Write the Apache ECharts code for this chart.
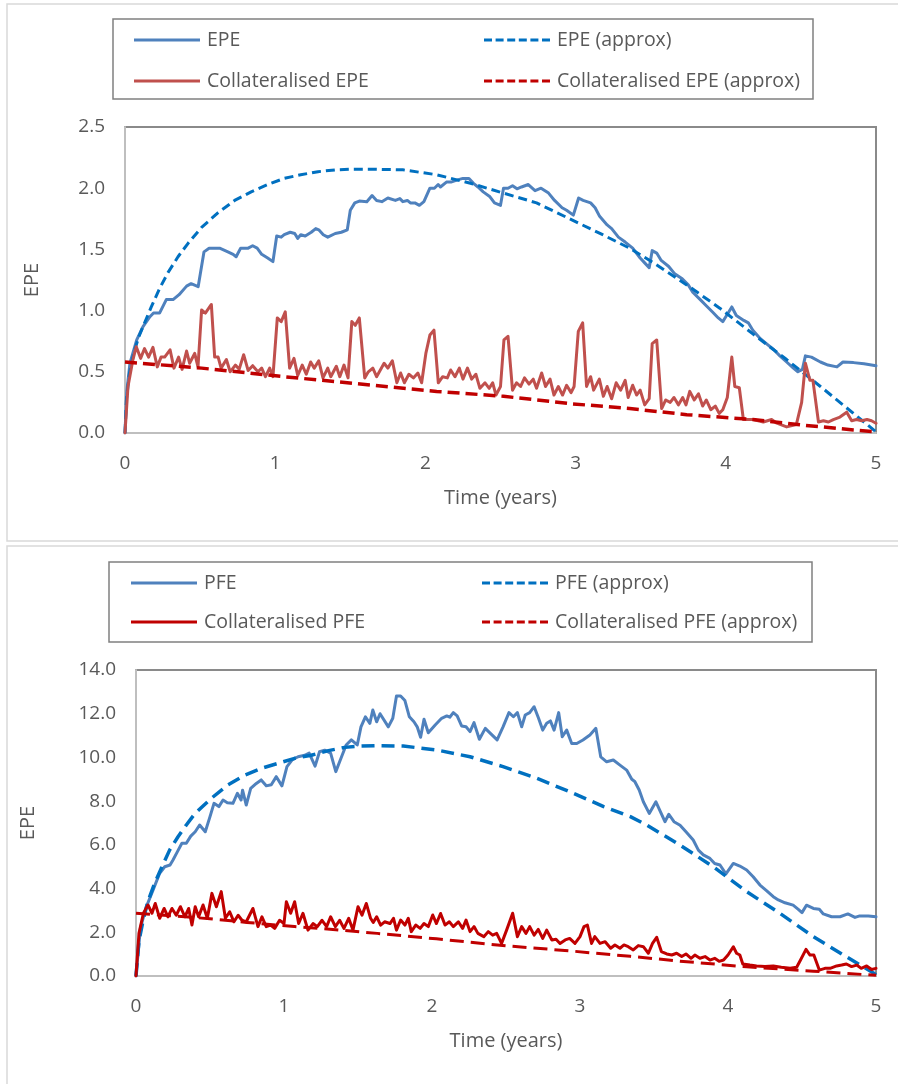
<!DOCTYPE html>
<html>
<head>
<meta charset="utf-8">
<script src="https://cdn.jsdelivr.net/npm/echarts@6/dist/echarts.min.js"></script>
<style>
html,body{margin:0;padding:0;background:#fff;}
#c{width:898px;height:1084px;}
</style>
</head>
<body>
<div id="c"></div>
<script>
// ---------- Top chart (EPE) ----------
const epeT = [0,0.011,0.033,0.078,0.12,0.166,0.19,0.23,0.275,0.32,0.36,0.41,0.44,0.487,0.526,0.56,0.63,0.685,0.72,0.74,0.77,0.82,0.85,0.88,0.91,0.95,0.985,1.01,1.04,1.06,1.10,1.13,1.15,1.17,1.20,1.24,1.27,1.29,1.32,1.35,1.40,1.44,1.48,1.50,1.53,1.56,1.61,1.645,1.675,1.71,1.75,1.80,1.83,1.85,1.88,1.90,1.93,1.96,1.99,2.03,2.06,2.085,2.10,2.14,2.17,2.22,2.25,2.29,2.32,2.35,2.385,2.43,2.46,2.50,2.52,2.55,2.58,2.61,2.64,2.685,2.73,2.77,2.82,2.86,2.91,2.94,2.985,3.02,3.05,3.10,3.13,3.16,3.21,3.24,3.285,3.33,3.38,3.43,3.46,3.49,3.51,3.54,3.57,3.62,3.66,3.71,3.75,3.78,3.83,3.87,3.91,3.95,3.98,4.00,4.04,4.07,4.12,4.15,4.18,4.23,4.27,4.32,4.36,4.405,4.45,4.48,4.51,4.53,4.57,4.63,4.68,4.74,4.78,4.85,4.92,5.00];
const epeV = [0,0.33,0.57,0.76,0.87,0.95,0.98,0.98,1.09,1.09,1.13,1.20,1.22,1.195,1.48,1.51,1.51,1.48,1.46,1.44,1.51,1.51,1.53,1.51,1.46,1.43,1.40,1.61,1.60,1.62,1.64,1.63,1.59,1.62,1.61,1.64,1.67,1.66,1.62,1.60,1.63,1.64,1.66,1.82,1.88,1.895,1.89,1.94,1.90,1.89,1.92,1.90,1.915,1.89,1.90,1.88,1.88,1.86,1.89,2.00,2.00,2.03,2.01,2.05,2.05,2.07,2.08,2.08,2.04,2.01,1.97,1.93,1.88,1.86,2.00,2.00,2.02,1.995,2.01,2.03,1.98,2.00,1.96,1.90,1.84,1.82,1.78,1.92,1.90,1.88,1.84,1.77,1.70,1.67,1.60,1.56,1.51,1.43,1.39,1.35,1.49,1.47,1.41,1.36,1.30,1.26,1.21,1.15,1.09,1.04,0.99,0.94,0.91,0.95,1.03,0.96,0.92,0.90,0.84,0.77,0.73,0.68,0.63,0.58,0.53,0.50,0.52,0.63,0.62,0.58,0.555,0.54,0.58,0.575,0.565,0.55];

const epeApproxT = [0,0.01,0.03,0.06,0.09,0.12,0.175,0.23,0.286,0.353,0.42,0.51,0.62,0.73,0.84,0.95,1.06,1.17,1.285,1.40,1.51,1.66,1.85,2.075,2.30,2.52,2.74,2.96,3.18,3.36,3.52,3.74,3.96,4.18,4.405,4.63,4.85,5.0];
const epeApproxV = [0,0.28,0.49,0.66,0.78,0.87,1.03,1.18,1.31,1.44,1.55,1.68,1.80,1.90,1.97,2.03,2.08,2.11,2.135,2.15,2.155,2.155,2.15,2.11,2.04,1.96,1.88,1.75,1.62,1.51,1.39,1.21,1.02,0.81,0.60,0.38,0.16,0.01];

const collEpeT = [0,0.02,0.053,0.075,0.104,0.13,0.157,0.186,0.215,0.24,0.264,0.30,0.326,0.357,0.38,0.41,0.43,0.464,0.486,0.51,0.535,0.575,0.597,0.62,0.64,0.675,0.70,0.735,0.76,0.79,0.82,0.85,0.885,0.91,0.935,0.963,0.985,1.014,1.04,1.067,1.096,1.125,1.15,1.18,1.207,1.236,1.26,1.29,1.318,1.35,1.37,1.407,1.43,1.458,1.485,1.51,1.533,1.56,1.596,1.62,1.65,1.675,1.725,1.75,1.78,1.81,1.835,1.86,1.89,1.92,1.95,1.975,2.003,2.03,2.057,2.086,2.115,2.146,2.168,2.197,2.226,2.25,2.28,2.308,2.336,2.363,2.397,2.425,2.448,2.47,2.50,2.523,2.55,2.58,2.607,2.634,2.66,2.69,2.718,2.74,2.774,2.80,2.83,2.856,2.885,2.913,2.94,2.97,2.99,3.018,3.047,3.073,3.10,3.12,3.158,3.185,3.21,3.24,3.27,3.30,3.33,3.35,3.38,3.406,3.43,3.46,3.49,3.51,3.54,3.573,3.60,3.63,3.655,3.685,3.713,3.735,3.76,3.79,3.818,3.846,3.87,3.90,3.93,3.956,3.98,4.01,4.04,4.06,4.09,4.117,4.15,4.183,4.216,4.25,4.305,4.34,4.405,4.47,4.505,4.53,4.56,4.58,4.617,4.65,4.683,4.716,4.76,4.805,4.838,4.87,4.905,4.94,4.97,5.0];
const collEpeV = [0,0.38,0.60,0.705,0.61,0.69,0.62,0.70,0.54,0.62,0.62,0.68,0.53,0.62,0.52,0.67,0.57,0.65,0.54,1.005,0.98,1.05,0.62,0.62,0.53,0.60,0.50,0.555,0.52,0.64,0.51,0.55,0.50,0.53,0.46,0.53,0.46,0.94,0.91,0.99,0.53,0.61,0.47,0.555,0.48,0.58,0.53,0.59,0.45,0.53,0.46,0.545,0.46,0.555,0.45,0.91,0.88,0.94,0.45,0.50,0.53,0.46,0.57,0.53,0.59,0.41,0.49,0.41,0.48,0.45,0.49,0.41,0.65,0.80,0.84,0.41,0.46,0.45,0.515,0.46,0.53,0.44,0.53,0.44,0.48,0.365,0.41,0.365,0.41,0.31,0.38,0.76,0.79,0.35,0.41,0.38,0.45,0.40,0.44,0.365,0.49,0.38,0.44,0.31,0.38,0.31,0.39,0.33,0.38,0.83,0.90,0.38,0.46,0.35,0.44,0.30,0.38,0.28,0.41,0.35,0.43,0.29,0.39,0.31,0.35,0.23,0.28,0.73,0.76,0.20,0.27,0.25,0.29,0.23,0.29,0.23,0.34,0.27,0.32,0.22,0.27,0.19,0.22,0.16,0.19,0.29,0.62,0.38,0.37,0.11,0.11,0.11,0.10,0.09,0.11,0.08,0.05,0.07,0.25,0.57,0.43,0.43,0.09,0.10,0.09,0.11,0.13,0.17,0.10,0.11,0.10,0.11,0.10,0.08];

const collEpeApproxT = [0,0.51,1.06,1.65,2.075,2.52,2.96,3.36,3.74,4.18,4.51,4.85,5.0];
const collEpeApproxV = [0.58,0.53,0.46,0.39,0.34,0.30,0.24,0.20,0.15,0.11,0.065,0.025,0.01];

// ---------- Bottom chart (PFE) ----------
const pfeT = [0,0.03,0.07,0.115,0.16,0.194,0.23,0.25,0.28,0.31,0.34,0.37,0.40,0.43,0.468,0.50,0.527,0.56,0.588,0.617,0.655,0.685,0.71,0.72,0.745,0.775,0.813,0.846,0.88,0.914,0.948,0.986,1.02,1.054,1.095,1.14,1.17,1.21,1.24,1.275,1.315,1.35,1.387,1.42,1.455,1.495,1.52,1.55,1.58,1.60,1.626,1.649,1.705,1.735,1.76,1.788,1.817,1.847,1.878,1.90,1.923,1.946,1.975,2.02,2.065,2.10,2.12,2.144,2.17,2.20,2.23,2.257,2.284,2.32,2.36,2.405,2.44,2.48,2.52,2.55,2.577,2.606,2.63,2.66,2.69,2.72,2.748,2.775,2.80,2.825,2.856,2.88,2.91,2.944,2.978,3.02,3.067,3.107,3.14,3.18,3.225,3.27,3.315,3.35,3.37,3.40,3.428,3.468,3.513,3.574,3.60,3.635,3.676,3.716,3.765,3.80,3.833,3.878,3.91,3.946,3.986,4.036,4.08,4.126,4.17,4.216,4.26,4.306,4.34,4.385,4.44,4.475,4.50,4.53,4.577,4.617,4.644,4.70,4.757,4.81,4.858,4.89,4.948,5.0];
const pfeV = [0,2.2,3.17,3.93,4.70,5.00,5.08,5.31,5.69,6.07,6.07,6.40,6.60,6.91,6.60,7.29,7.90,7.75,8.05,7.93,7.90,8.36,8.05,8.50,7.82,8.58,8.81,8.97,8.70,8.75,9.12,8.70,9.58,9.88,10.03,10.1,10.2,9.6,10.26,10.33,10.2,9.35,10.0,10.57,10.8,10.57,11.4,11.86,11.56,12.17,11.63,12.0,11.40,11.79,12.81,12.81,12.6,11.86,11.63,11.40,10.92,11.75,11.13,11.47,11.79,11.9,11.84,12.05,11.9,11.44,11.40,11.18,11.59,10.83,11.33,11.03,10.80,11.40,12.05,11.86,12.05,11.40,11.94,12.05,12.32,11.79,11.25,11.56,11.67,11.25,12.05,10.95,11.25,10.64,10.64,10.80,11.03,11.33,10.03,9.80,9.88,9.65,9.42,9.0,8.9,8.51,7.97,7.44,7.97,7.06,7.40,7.06,6.9,6.60,6.22,5.76,5.54,5.38,5.15,5.08,4.67,5.15,5.03,4.85,4.54,4.16,3.91,3.63,3.48,3.35,3.24,3.05,2.90,3.24,3.09,3.05,2.84,2.71,2.71,2.84,2.68,2.75,2.75,2.71];

const pfeApproxT = [0,0.02,0.05,0.08,0.126,0.171,0.227,0.284,0.34,0.396,0.453,0.509,0.62,0.734,0.847,0.96,1.072,1.185,1.30,1.41,1.523,1.63,1.806,2.032,2.257,2.48,2.71,2.93,3.16,3.34,3.45,3.676,3.90,4.126,4.35,4.577,4.80,4.98,5.0];
const pfeApproxV = [0,1.6,2.6,3.4,4.24,4.93,5.76,6.37,6.91,7.41,7.78,8.13,8.74,9.19,9.50,9.73,9.96,10.1,10.31,10.46,10.52,10.54,10.52,10.34,10.03,9.58,9.04,8.43,7.75,7.29,6.91,5.99,5.0,3.86,2.87,1.80,0.88,0.15,0.05];

const collPfeT = [0,0.02,0.05,0.081,0.108,0.13,0.16,0.19,0.216,0.243,0.272,0.30,0.33,0.356,0.378,0.40,0.423,0.453,0.482,0.513,0.543,0.576,0.604,0.633,0.662,0.69,0.716,0.745,0.79,0.824,0.851,0.88,0.91,0.937,0.97,1.0,1.016,1.045,1.072,1.099,1.128,1.162,1.196,1.225,1.257,1.288,1.315,1.347,1.376,1.405,1.437,1.466,1.50,1.527,1.556,1.585,1.603,1.626,1.653,1.68,1.716,1.74,1.76,1.788,1.817,1.84,1.86,1.89,1.92,1.946,1.975,2.005,2.03,2.058,2.088,2.117,2.144,2.178,2.207,2.23,2.257,2.284,2.31,2.35,2.38,2.41,2.437,2.47,2.504,2.545,2.577,2.606,2.635,2.66,2.69,2.718,2.748,2.775,2.81,2.838,2.865,2.90,2.93,2.966,3.0,3.027,3.05,3.078,3.10,3.135,3.17,3.207,3.236,3.27,3.297,3.326,3.36,3.394,3.428,3.462,3.49,3.518,3.55,3.586,3.62,3.653,3.687,3.716,3.75,3.776,3.81,3.845,3.878,3.91,3.94,3.97,4.0,4.036,4.058,4.08,4.10,4.148,4.193,4.25,4.306,4.36,4.42,4.464,4.49,4.527,4.554,4.58,4.617,4.655,4.69,4.734,4.768,4.80,4.835,4.87,4.90,4.937,4.97,5.0];
const collPfeV = [0,1.95,2.87,3.25,2.87,3.32,2.64,3.09,2.71,3.09,2.78,3.17,2.71,3.09,2.33,3.17,2.71,3.25,2.64,3.78,3.17,3.86,2.64,2.94,2.48,2.78,2.55,2.48,3.09,2.26,2.71,2.26,2.33,2.18,2.55,2.40,3.40,2.87,3.40,2.40,2.87,2.10,2.40,2.26,2.55,2.26,2.71,2.26,2.55,2.18,2.64,2.10,3.17,2.78,3.32,2.64,2.45,2.71,2.33,2.48,2.40,2.64,2.10,2.56,2.33,2.64,2.03,2.33,2.18,2.40,2.26,2.79,2.40,2.86,2.33,2.48,2.26,2.48,2.18,2.56,2.03,2.26,1.95,1.80,2.03,1.87,1.95,1.49,2.10,2.87,1.80,2.26,1.95,2.26,1.87,2.13,1.72,2.10,1.65,1.68,1.49,1.65,1.72,1.49,1.80,2.26,2.33,1.49,1.80,1.49,1.57,1.27,1.42,1.27,1.42,1.34,1.19,1.39,1.34,1.04,1.49,1.77,1.12,1.01,0.96,1.04,0.89,1.01,0.81,0.96,0.81,0.89,0.73,0.81,0.67,0.73,0.96,1.34,1.04,0.96,0.55,0.50,0.46,0.43,0.46,0.40,0.35,0.40,0.73,1.22,0.96,0.96,0.27,0.35,0.35,0.46,0.50,0.55,0.43,0.50,0.35,0.46,0.30,0.35];

const collPfeApproxT = [0,0.25,0.5,0.75,1.07,1.35,1.63,2.03,2.5,2.93,3.34,3.676,4.126,4.577,5.0];
const collPfeApproxV = [2.87,2.75,2.62,2.45,2.26,2.12,1.95,1.70,1.38,1.15,0.90,0.68,0.42,0.22,0.03];

// tick labels
const xTicks = [0,1,2,3,4,5];
const epeTicks = [0,0.5,1,1.5,2,2.5];
const pfeTicks = [0,2,4,6,8,10,12,14];

// ---------- build ----------
function zip(t, v) { return t.map((x, i) => [x, v[i]]); }
const FONT = 'Open Sans';
const TXT = '#595959';
const SOLID_ICON = 'path://M0 0h66v3H0z';
const DASH_ICON = 'path://M0 0h8v3H0z M11.6 0h8v3h-8z M23.2 0h8v3h-8z M34.8 0h8v3h-8z M46.4 0h8v3h-8z M58 0h8v3h-8z';

function xAxisCfg(gridIndex) {
  return {
    type: 'value', gridIndex, min: xTicks[0], max: xTicks[xTicks.length - 1], interval: 1,
    axisLine: { show: true, lineStyle: { color: '#bfbfbf', width: 2 } },
    axisTick: { show: false }, splitLine: { show: false },
    axisLabel: { color: TXT, fontSize: 19, fontFamily: FONT, margin: 21 },
    name: 'Time (years)', nameLocation: 'middle', nameGap: 55,
    nameTextStyle: { color: TXT, fontSize: 20, fontFamily: FONT }
  };
}
function yAxisCfg(gridIndex, ticks, gap) {
  return {
    type: 'value', gridIndex, min: ticks[0], max: ticks[ticks.length - 1], interval: ticks[1] - ticks[0],
    axisLine: { show: true, lineStyle: { color: '#bfbfbf', width: 2 } },
    axisTick: { show: false }, splitLine: { show: false },
    axisLabel: { color: TXT, fontSize: 19, fontFamily: FONT, margin: 20, formatter: v => v.toFixed(1) },
    name: 'EPE', nameLocation: 'middle', nameGap: gap, nameRotate: 90,
    nameTextStyle: { color: TXT, fontSize: 20, fontFamily: FONT }
  };
}
function lineSeries(name, data, axisIdx, color, width, dash) {
  return {
    name, type: 'line', data, xAxisIndex: axisIdx, yAxisIndex: axisIdx,
    symbol: 'none', smooth: false, silent: true,
    lineStyle: { color, width, type: dash || 'solid', cap: dash ? 'butt' : 'round', join: 'round' },
    itemStyle: { color }
  };
}
function legendCfg(name, dashed, left, centerY) {
  return {
    data: [{ name, icon: dashed ? DASH_ICON : SOLID_ICON }], left, top: centerY - 12, padding: 0,
    itemWidth: 66, itemHeight: 3, itemGap: 0,
    textStyle: { color: TXT, fontSize: 19.5, fontFamily: FONT, lineHeight: 24, padding: [0, 0, 0, 2] },
    selectedMode: false
  };
}

const option = {
  animation: false,
  backgroundColor: '#ffffff',
  grid: [
    { left: 125, top: 127, width: 751, height: 306, show: true, borderColor: '#8a8a8a', borderWidth: 2, backgroundColor: 'transparent' },
    { left: 136, top: 670, width: 740, height: 306, show: true, borderColor: '#8a8a8a', borderWidth: 2, backgroundColor: 'transparent' }
  ],
  xAxis: [xAxisCfg(0), xAxisCfg(1)],
  yAxis: [yAxisCfg(0, epeTicks, 83), yAxisCfg(1, pfeTicks, 98)],
  legend: [
    legendCfg('EPE', false, 134, 40), legendCfg('EPE (approx)', true, 484, 40),
    legendCfg('Collateralised EPE', false, 134, 81), legendCfg('Collateralised EPE (approx)', true, 484, 81),
    legendCfg('PFE', false, 131, 583), legendCfg('PFE (approx)', true, 482, 583),
    legendCfg('Collateralised PFE', false, 131, 622), legendCfg('Collateralised PFE (approx)', true, 482, 622)
  ],
  graphic: [
    { type: 'rect', shape: { x: 7, y: 4, width: 900, height: 537 }, style: { fill: 'none', stroke: '#d9d9d9', lineWidth: 1.5 }, z: -1 },
    { type: 'rect', shape: { x: 7, y: 546, width: 900, height: 545 }, style: { fill: 'none', stroke: '#d9d9d9', lineWidth: 1.5 }, z: -1 },
    { type: 'rect', shape: { x: 113, y: 19, width: 700, height: 80 }, style: { fill: 'none', stroke: '#808080', lineWidth: 1.5 } },
    { type: 'rect', shape: { x: 109, y: 562, width: 703, height: 80 }, style: { fill: 'none', stroke: '#808080', lineWidth: 1.5 } }
  ],
  series: [
    lineSeries('EPE', zip(epeT, epeV), 0, '#4F81BD', 3),
    lineSeries('EPE (approx)', zip(epeApproxT, epeApproxV), 0, '#0070C0', 3, [9, 5]),
    lineSeries('Collateralised EPE', zip(collEpeT, collEpeV), 0, '#C0504D', 3),
    lineSeries('Collateralised EPE (approx)', zip(collEpeApproxT, collEpeApproxV), 0, '#C00000', 3.5, [12, 6]),
    lineSeries('PFE', zip(pfeT, pfeV), 1, '#4F81BD', 3),
    lineSeries('PFE (approx)', zip(pfeApproxT, pfeApproxV), 1, '#0070C0', 3.5, [13, 7]),
    lineSeries('Collateralised PFE', zip(collPfeT, collPfeV), 1, '#C00000', 3),
    lineSeries('Collateralised PFE (approx)', zip(collPfeApproxT, collPfeApproxV), 1, '#C00000', 3, [14, 7])
  ]
};
const chart = echarts.init(document.getElementById('c'), null, { renderer: 'canvas' });
chart.setOption(option);
</script>
</body>
</html>
